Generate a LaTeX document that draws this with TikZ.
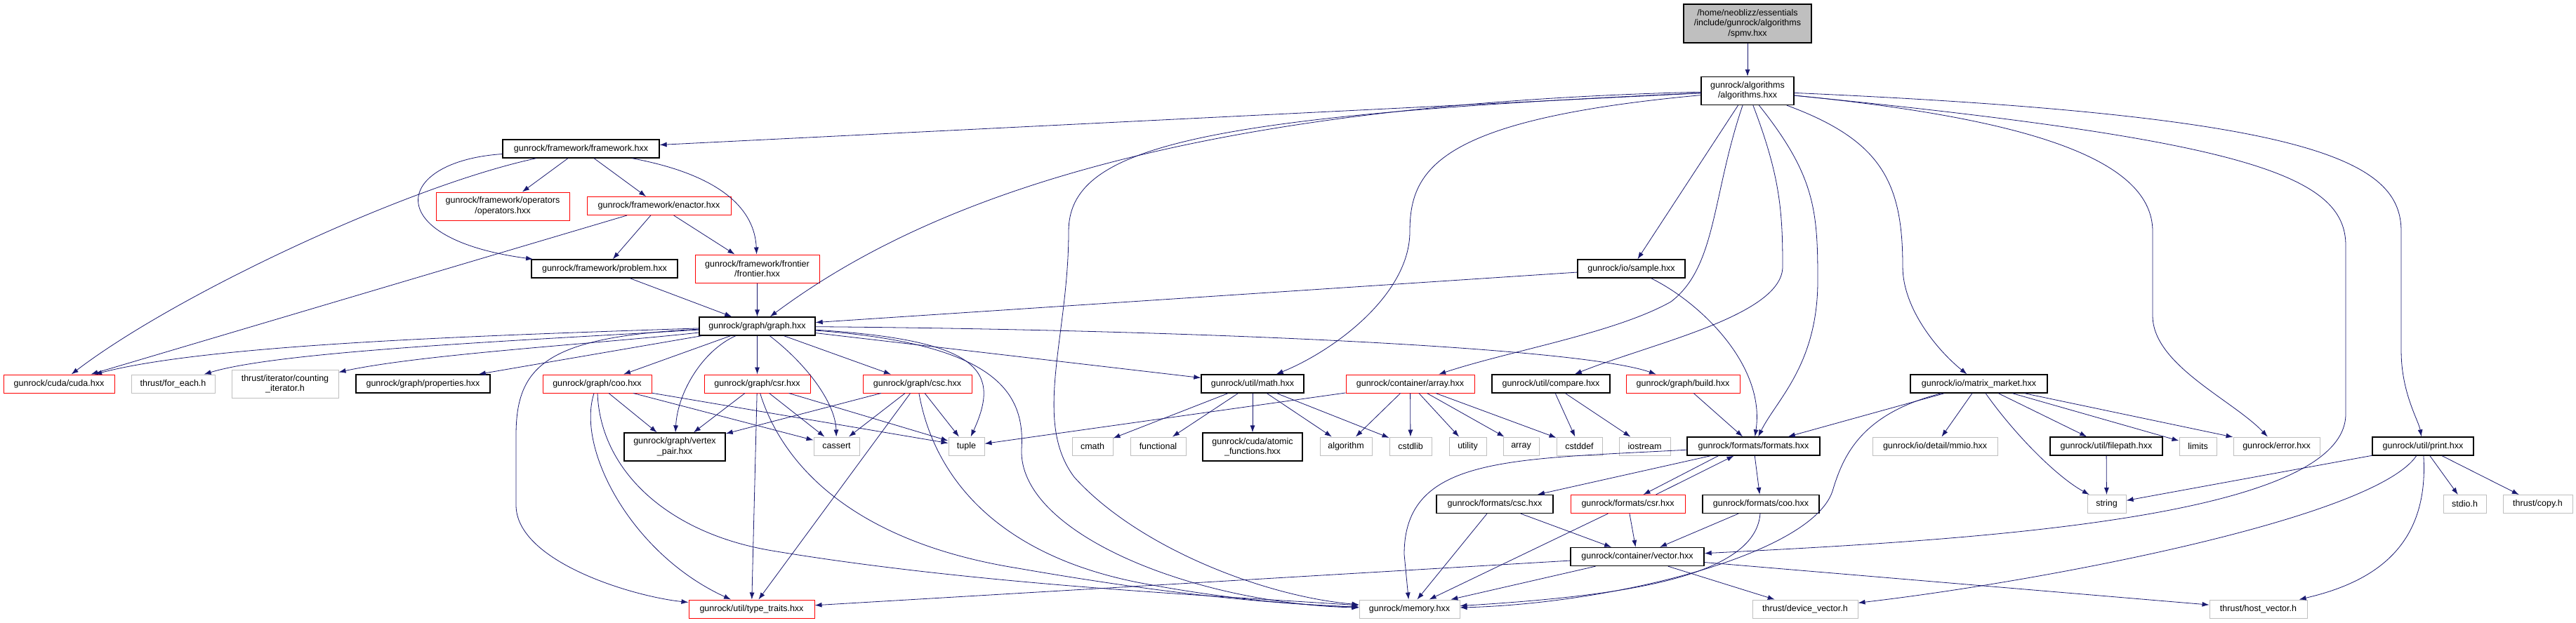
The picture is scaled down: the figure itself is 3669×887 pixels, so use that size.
\documentclass[tikz,border=0pt]{standalone}
\usepackage{fontspec}
\setmainfont{Liberation Sans}
\usepackage{tikz}
\usetikzlibrary{arrows.meta}
\definecolor{edgeblue}{HTML}{191970}
\definecolor{extgray}{HTML}{BFBFBF}

\begin{document}
\begin{tikzpicture}[x=1pt, y=-1pt,
  filebox/.style={rectangle, inner sep=0pt, minimum height=26pt, align=center,
    font=\fontsize{12.5}{14.5}\selectfont},
  docbox/.style={filebox, draw=black, line width=1.3pt},
  truncbox/.style={filebox, draw=red, line width=1pt},
  extbox/.style={filebox, draw=extgray, line width=1pt},
  rootbox/.style={filebox, draw=black, fill=extgray, line width=1.2pt, minimum height=55pt},
  twoline/.style={minimum height=40pt},
  dep/.style={draw=edgeblue, line width=0.8pt, -{Latex[length=10pt,width=7pt]}}]
  \useasboundingbox (0,0) rectangle (3669,887);

  % top of the graph
  \node[rootbox, minimum width=182pt] (spmv) at (2489,33.5) {/home/neoblizz/essentials\\/include/gunrock/algorithms\\/spmv.hxx};
  \node[docbox, twoline, minimum width=132pt] (algo) at (2489,129.5) {gunrock/algorithms\\/algorithms.hxx};

  % framework layer
  \node[docbox, minimum width=223pt] (framework) at (827.5,212) {gunrock/framework/framework.hxx};
  \node[truncbox, twoline, minimum width=190pt] (operators) at (716,294) {gunrock/framework/operators\\/operators.hxx};
  \node[truncbox, minimum width=205pt] (enactor) at (938.5,293.5) {gunrock/framework/enactor.hxx};
  \node[docbox, minimum width=208pt] (problem) at (861,383) {gunrock/framework/problem.hxx};
  \node[truncbox, twoline, minimum width=177pt] (frontier) at (1078.5,383) {gunrock/framework/frontier\\/frontier.hxx};
  \node[docbox, minimum width=153pt] (sample) at (2323.5,383) {gunrock/io/sample.hxx};
  \node[docbox, minimum width=165pt] (graph) at (1078.5,465) {gunrock/graph/graph.hxx};

  % row under graph.hxx
  \node[truncbox, minimum width=158pt] (cuda) at (84,547) {gunrock/cuda/cuda.hxx};
  \node[extbox, minimum width=119pt] (foreach) at (246.5,547) {thrust/for\_each.h};
  \node[extbox, twoline, minimum width=152pt] (counting) at (406,547) {thrust/iterator/counting\\\_iterator.h};
  \node[docbox, minimum width=191pt] (props) at (602.5,547) {gunrock/graph/properties.hxx};
  \node[truncbox, minimum width=155pt] (gcoo) at (850.5,547) {gunrock/graph/coo.hxx};
  \node[truncbox, minimum width=151pt] (gcsr) at (1078.5,547) {gunrock/graph/csr.hxx};
  \node[truncbox, minimum width=155pt] (gcsc) at (1306.5,547) {gunrock/graph/csc.hxx};
  \node[docbox, minimum width=146pt] (utilmath) at (1784,547) {gunrock/util/math.hxx};
  \node[truncbox, minimum width=183pt] (carray) at (2008.5,547) {gunrock/container/array.hxx};
  \node[docbox, minimum width=168pt] (compare) at (2209,547) {gunrock/util/compare.hxx};
  \node[truncbox, minimum width=162pt] (build) at (2397,547) {gunrock/graph/build.hxx};
  \node[docbox, minimum width=195pt] (mmarket) at (2818.5,547) {gunrock/io/matrix\_market.hxx};

  % headers row
  \node[docbox, twoline, minimum width=144pt] (vpair) at (961,637) {gunrock/graph/vertex\\\_pair.hxx};
  \node[extbox, minimum width=65pt] (cassert) at (1191.5,636) {cassert};
  \node[extbox, minimum width=51pt] (tuple) at (1376.5,636) {tuple};
  \node[extbox, minimum width=58pt] (cmath) at (1556,636) {cmath};
  \node[extbox, minimum width=79pt] (functional) at (1649.5,636) {functional};
  \node[docbox, twoline, minimum width=142pt] (atomic) at (1784,637) {gunrock/cuda/atomic\\\_functions.hxx};
  \node[extbox, minimum width=74pt] (algorithm) at (1917,636) {algorithm};
  \node[extbox, minimum width=60pt] (cstdlib) at (2009,636) {cstdlib};
  \node[extbox, minimum width=53pt] (utility) at (2090.5,636) {utility};
  \node[extbox, minimum width=51pt] (stdarray) at (2166.5,636) {array};
  \node[extbox, minimum width=65pt] (cstddef) at (2249.5,636) {cstddef};
  \node[extbox, minimum width=73pt] (iostream) at (2342.5,636) {iostream};
  \node[docbox, minimum width=189pt] (formats) at (2497.5,636) {gunrock/formats/formats.hxx};
  \node[extbox, minimum width=178pt] (mmio) at (2756,636) {gunrock/io/detail/mmio.hxx};
  \node[docbox, minimum width=160pt] (filepath) at (3000,636) {gunrock/util/filepath.hxx};
  \node[extbox, minimum width=53pt] (limits) at (3130.5,636) {limits};
  \node[extbox, minimum width=123pt] (errorh) at (3242.5,636) {gunrock/error.hxx};
  \node[docbox, minimum width=144pt] (print) at (3451,636) {gunrock/util/print.hxx};

  % formats row
  \node[docbox, minimum width=166pt] (fcsc) at (2129,718.5) {gunrock/formats/csc.hxx};
  \node[truncbox, minimum width=163pt] (fcsr) at (2318.5,718.5) {gunrock/formats/csr.hxx};
  \node[docbox, minimum width=166pt] (fcoo) at (2508,718.5) {gunrock/formats/coo.hxx};
  \node[extbox, minimum width=55pt] (string) at (3000.5,718.5) {string};
  \node[extbox, minimum width=61pt] (stdio) at (3510.5,718.5) {stdio.h};
  \node[extbox, minimum width=99pt] (thrustcopy) at (3614.5,718.5) {thrust/copy.h};
  \node[docbox, minimum width=190pt] (vector) at (2332,793.5) {gunrock/container/vector.hxx};

  % bottom row
  \node[truncbox, minimum width=179pt] (typetraits) at (1070.5,868) {gunrock/util/type\_traits.hxx};
  \node[extbox, minimum width=143pt] (memory) at (2007.5,868) {gunrock/memory.hxx};
  \node[extbox, minimum width=150pt] (devvec) at (2571,868) {thrust/device\_vector.h};
  \node[extbox, minimum width=139pt] (hostvec) at (3216.5,868) {thrust/host\_vector.h};

  % spmv.hxx and algorithms.hxx
  \draw[dep] (spmv) -- (algo);
  \draw[dep] (algo) -- (framework);
  \draw[dep] (algo) .. controls (1650,150) and (1300,300) .. (graph);
  \draw[dep] (algo) .. controls (1700,165) and (1522,210) .. (1522,330) .. controls (1522,480) and (1470,600) .. (1530,680) .. controls (1620,780) and (1800,850) .. (memory);
  \draw[dep] (algo) .. controls (2050,170) and (2008,240) .. (2008,330) .. controls (2008,420) and (1900,500) .. (utilmath);
  \draw[dep] (algo) -- (sample);
  \draw[dep] (algo) .. controls (2438,280) and (2445,380) .. (2380,430) .. controls (2300,475) and (2150,500) .. (carray);
  \draw[dep] (algo) .. controls (2535,250) and (2539,300) .. (2539,380) .. controls (2539,450) and (2350,490) .. (compare);
  \draw[dep] (algo) .. controls (2585,250) and (2589,300) .. (2589,400) .. controls (2589,520) and (2530,570) .. (formats);
  \draw[dep] (algo) .. controls (2680,200) and (2710,260) .. (2710,380) .. controls (2710,440) and (2760,500) .. (mmarket);
  \draw[dep] (algo) .. controls (2900,170) and (3066,230) .. (3066,330) -- (3066,450) .. controls (3066,520) and (3180,570) .. (errorh);
  \draw[dep] (algo) .. controls (3200,200) and (3341,250) .. (3341,350) -- (3341,590) .. controls (3341,740) and (2800,770) .. (vector);
  \draw[dep] (algo) .. controls (3300,165) and (3420,230) .. (3420,330) -- (3420,500) .. controls (3420,560) and (3445,600) .. (print);

  % framework
  \draw[dep] (framework) -- (operators);
  \draw[dep] (framework) -- (enactor);
  \draw[dep] (framework) .. controls (1030,250) and (1075,300) .. (frontier);
  \draw[dep] (framework) .. controls (560,230) and (540,340) .. (problem);
  \draw[dep] (framework) .. controls (580,265) and (250,420) .. (cuda);
  \draw[dep] (enactor) -- (problem);
  \draw[dep] (enactor) -- (frontier);
  \draw[dep] (enactor) -- (cuda);
  \draw[dep] (problem) -- (graph);
  \draw[dep] (frontier) -- (graph);
  \draw[dep] (sample) -- (graph);
  \draw[dep] (sample) .. controls (2420,430) and (2515,520) .. (formats);

  % graph.hxx
  \draw[dep] (graph) .. controls (700,478) and (300,490) .. (cuda);
  \draw[dep] (graph) .. controls (750,485) and (400,500) .. (foreach);
  \draw[dep] (graph) .. controls (850,490) and (600,505) .. (counting);
  \draw[dep] (graph) -- (props);
  \draw[dep] (graph) -- (gcoo);
  \draw[dep] (graph) -- (gcsr);
  \draw[dep] (graph) -- (gcsc);
  \draw[dep] (graph) -- (utilmath);
  \draw[dep] (graph) .. controls (1700,470) and (2250,495) .. (build);
  \draw[dep] (graph) .. controls (1000,500) and (965,560) .. (vpair);
  \draw[dep] (graph) .. controls (1150,520) and (1190,575) .. (cassert);
  \draw[dep] (graph) .. controls (1400,485) and (1425,530) .. (tuple);
  \draw[dep] (graph) .. controls (1420,490) and (1460,560) .. (1455,640) .. controls (1450,760) and (1700,860) .. (memory);
  \draw[dep] (graph) .. controls (780,480) and (735,520) .. (735,620) -- (735,720) .. controls (735,800) and (900,850) .. (typetraits);

  % graph formats
  \draw[dep] (gcoo) -- (vpair);
  \draw[dep] (gcoo) -- (cassert);
  \draw[dep] (gcoo) -- (tuple);
  \draw[dep] (gcoo) .. controls (820,640) and (900,790) .. (typetraits);
  \draw[dep] (gcoo) .. controls (855,670) and (950,760) .. (1100,785) .. controls (1400,835) and (1750,850) .. (memory);
  \draw[dep] (gcsr) -- (vpair);
  \draw[dep] (gcsr) -- (cassert);
  \draw[dep] (gcsr) -- (tuple);
  \draw[dep] (gcsr) -- (typetraits);
  \draw[dep] (gcsr) .. controls (1110,650) and (1200,770) .. (1450,810) .. controls (1650,845) and (1800,860) .. (memory);
  \draw[dep] (gcsc) -- (vpair);
  \draw[dep] (gcsc) -- (cassert);
  \draw[dep] (gcsc) -- (tuple);
  \draw[dep] (gcsc) -- (typetraits);
  \draw[dep] (gcsc) .. controls (1330,680) and (1420,790) .. (1620,830) .. controls (1750,855) and (1850,862) .. (memory);

  % util, container, io
  \draw[dep] (utilmath) -- (cmath);
  \draw[dep] (utilmath) -- (functional);
  \draw[dep] (utilmath) -- (atomic);
  \draw[dep] (utilmath) -- (algorithm);
  \draw[dep] (utilmath) -- (cstdlib);
  \draw[dep] (carray) -- (tuple);
  \draw[dep] (carray) -- (algorithm);
  \draw[dep] (carray) -- (cstdlib);
  \draw[dep] (carray) -- (utility);
  \draw[dep] (carray) -- (stdarray);
  \draw[dep] (carray) -- (cstddef);
  \draw[dep] (compare) -- (cstddef);
  \draw[dep] (compare) -- (iostream);
  \draw[dep] (build) -- (formats);
  \draw[dep] (mmarket) -- (formats);
  \draw[dep] (mmarket) -- (mmio);
  \draw[dep] (mmarket) -- (filepath);
  \draw[dep] (mmarket) -- (limits);
  \draw[dep] (mmarket) -- (errorh);
  \draw[dep] (mmarket) .. controls (2870,620) and (2930,680) .. (string);
  \draw[dep] (mmarket) .. controls (2650,590) and (2625,650) .. (2610,700) .. controls (2580,790) and (2300,860) .. (memory);

  % formats
  \draw[dep] (formats) .. controls (2150,655) and (2000,650) .. (2000,790) -- (memory);
  \draw[dep] (formats) -- (fcsc);
  \draw[dep] ([xshift=-50pt]formats.south) -- ([xshift=22pt]fcsr.north);
  \draw[dep] ([xshift=40pt]fcsr.north) -- ([xshift=-28pt]formats.south);
  \draw[dep] (formats) -- (fcoo);
  \draw[dep] (fcsc) -- (memory);
  \draw[dep] (fcsc) -- (vector);
  \draw[dep] (fcsr) -- (memory);
  \draw[dep] (fcsr) -- (vector);
  \draw[dep] (fcoo) -- (vector);
  \draw[dep] (fcoo) .. controls (2500,825) and (2300,850) .. (memory);

  % vector, filepath, print
  \draw[dep] (vector) -- (memory);
  \draw[dep] (vector) -- (typetraits);
  \draw[dep] (vector) -- (devvec);
  \draw[dep] (vector) -- (hostvec);
  \draw[dep] (filepath) -- (string);
  \draw[dep] (print) -- (string);
  \draw[dep] (print) -- (stdio);
  \draw[dep] (print) -- (thrustcopy);
  \draw[dep] (print) .. controls (3380,740) and (2900,830) .. (devvec);
  \draw[dep] (print) .. controls (3460,780) and (3380,830) .. (hostvec);
\end{tikzpicture}
\end{document}
